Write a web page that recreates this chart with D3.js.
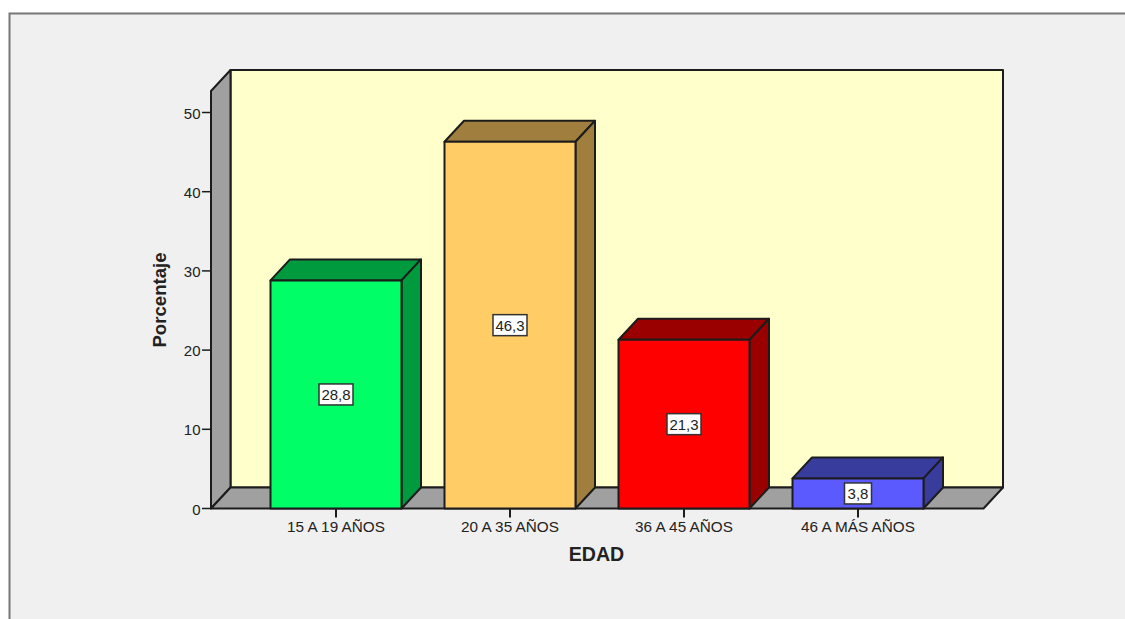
<!DOCTYPE html>
<html><head><meta charset="utf-8">
<script src="https://cdnjs.cloudflare.com/ajax/libs/d3/7.8.5/d3.min.js"></script>
<style>html,body{margin:0;padding:0;background:#fff;overflow:hidden}svg{display:block}text{font-family:"Liberation Sans",Arial,sans-serif;fill:#222}</style>
</head><body><svg id="c" width="1125" height="619"></svg>
<script>
const categories = ["15 A 19 AÑOS","20 A 35 AÑOS","36 A 45 AÑOS","46 A MÁS AÑOS"];
const values = [28.8,46.3,21.3,3.8];
const valueLabels = ["28,8","46,3","21,3","3,8"];
const frontColors = ["#00ff66","#ffcc66","#ff0000","#5a5aff"];
const sideColors = ["#009a3e","#a07e3e","#9a0000","#383c9c"];
const yTicks = [0,10,20,30,40,50];

const svg = d3.select("#c");
const stroke = "#1c1c1c";
const x0 = 211, x1 = 983.5, dx = 19.5, dy = 21, topY = 91;
const y = d3.scaleLinear().domain([0,50]).range([508.5,112.5]);
const x = d3.scalePoint().domain(categories).range([336,858]);
const barW = 131;
const poly = (pts,fill,sw=2)=>svg.append("path").attr("d",d3.line()(pts)+"Z").attr("fill",fill).attr("stroke",stroke).attr("stroke-width",sw).attr("stroke-linejoin","round");

// panel frame
svg.append("rect").attr("x",9.5).attr("y",13.5).attr("width",1130).attr("height",620).attr("fill","#f0f0f0").attr("stroke","#777").attr("stroke-width",2);

// back wall, side wall, floor
const base = y(0);
poly([[x0+dx,topY-dy],[x1+dx,topY-dy],[x1+dx,base-dy],[x0+dx,base-dy]],"#ffffcc");
poly([[x0,topY],[x0+dx,topY-dy],[x0+dx,base-dy],[x0,base]],"#a0a0a0");
poly([[x0,base],[x0+dx,base-dy],[x1+dx,base-dy],[x1,base]],"#a0a0a0");

// y axis ticks
const yG = svg.append("g");
yTicks.forEach(t=>{
  yG.append("line").attr("x1",x0-9).attr("x2",x0).attr("y1",y(t)).attr("y2",y(t)).attr("stroke",stroke).attr("stroke-width",1.5);
  yG.append("text").attr("x",x0-10.5).attr("y",y(t)+6).attr("text-anchor","end").attr("font-size",15).text(t);
});

// bars
categories.forEach((c,i)=>{
  const l = x(c)-barW/2, r = x(c)+barW/2, t = y(values[i]);
  svg.append("line").attr("x1",x(c)).attr("x2",x(c)).attr("y1",base).attr("y2",base+9).attr("stroke",stroke).attr("stroke-width",2);
  poly([[l,t],[l+dx,t-dy],[r+dx,t-dy],[r,t]],sideColors[i]);
  poly([[r,t],[r+dx,t-dy],[r+dx,base-dy],[r,base]],sideColors[i]);
  poly([[l,t],[r,t],[r,base],[l,base]],frontColors[i]);
  svg.append("text").attr("x",x(c)).attr("y",base+23.5).attr("text-anchor","middle").attr("font-size",15.3).text(c);
  const my = (t+base)/2, w = valueLabels[i].length>3?34:27, h = 21;
  svg.append("rect").attr("x",x(c)-w/2).attr("y",my-h/2).attr("width",w).attr("height",h).attr("fill","#fff").attr("stroke","#333").attr("stroke-width",1.5);
  svg.append("text").attr("x",x(c)).attr("y",my+5.5).attr("text-anchor","middle").attr("font-size",15).text(valueLabels[i]);
});

// axis titles
svg.append("text").attr("x",596.5).attr("y",561).attr("text-anchor","middle").attr("font-size",19.6).attr("font-weight","bold").text("EDAD");
svg.append("text").attr("transform","translate(166,300) rotate(-90)").attr("text-anchor","middle").attr("font-size",18.6).attr("font-weight","bold").text("Porcentaje");
</script></body></html>
